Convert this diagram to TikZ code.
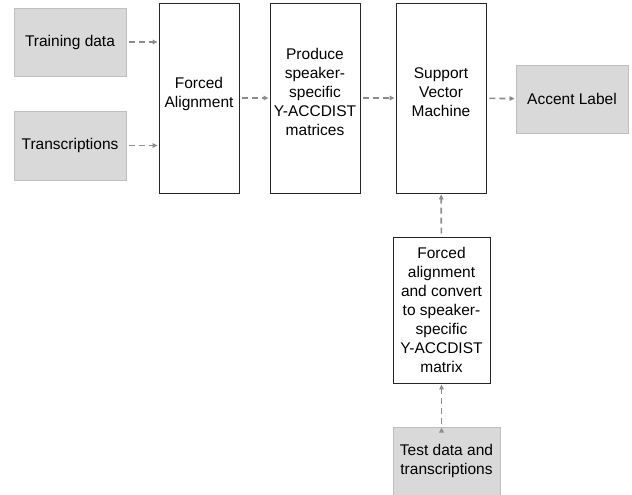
\documentclass[tikz,border=0pt]{standalone}
\usepackage{fontspec}
\setmainfont{Liberation Sans}
\usetikzlibrary{arrows.meta}
\definecolor{boxgray}{HTML}{D9D9D9}
\definecolor{edgegray}{HTML}{BFBFBF}
\definecolor{arrowgray}{HTML}{8C8C8C}

\begin{document}
\begin{tikzpicture}[x=1pt, y=-1pt, shorten >=1pt, shorten <=3pt,
    every node/.style={font=\fontsize{15.5}{19}\selectfont, align=center, inner sep=0pt},
    whitebox/.style={draw=black!85, fill=white, line width=0.8pt},
    tallbox/.style={whitebox, minimum height=190pt, text depth=12pt},
    graybox/.style={draw=edgegray, fill=boxgray, line width=0.8pt},
    flow/.style={->, >={Triangle[length=5pt,width=4.5pt]}, draw=arrowgray,
                 line width=1.6pt, dash pattern=on 6pt off 4pt}]

    \useasboundingbox (0,0) rectangle (632,495);

    \node [graybox, minimum width=112pt, minimum height=68pt] (train) at (70, 42) {Training data};
    \node [graybox, minimum width=112pt, minimum height=69pt] (trans) at (70, 145.5) {Transcriptions};
    \node [tallbox, minimum width=80pt] (align) at (199, 98) {Forced\\Alignment};
    \node [tallbox, minimum width=90pt] (produce) at (315, 98) {Produce\\speaker-\\specific\\Y-ACCDIST\\matrices};
    \node [tallbox, minimum width=90pt] (svm) at (441, 98) {Support\\Vector\\Machine};
    \node [graybox, minimum width=112pt, minimum height=68pt] (accent) at (572, 99) {Accent Label};
    \node [whitebox, minimum width=97pt, minimum height=146pt] (convert) at (441.5, 310) {Forced\\alignment\\and convert\\to speaker-\\specific\\Y-ACCDIST\\matrix};
    \node [graybox, minimum width=107pt, minimum height=68pt] (test) at (446.5, 461) {Test data and\\transcriptions};

 \path[flow]
      (train) edge (train -| align.west)
      (trans) edge (trans -| align.west)
      (align) edge (produce)
      (produce) edge (svm)
      (svm) edge (accent)
      (test.north -| convert) edge (convert)
      (convert) edge (svm);
\end{tikzpicture}
\end{document}
